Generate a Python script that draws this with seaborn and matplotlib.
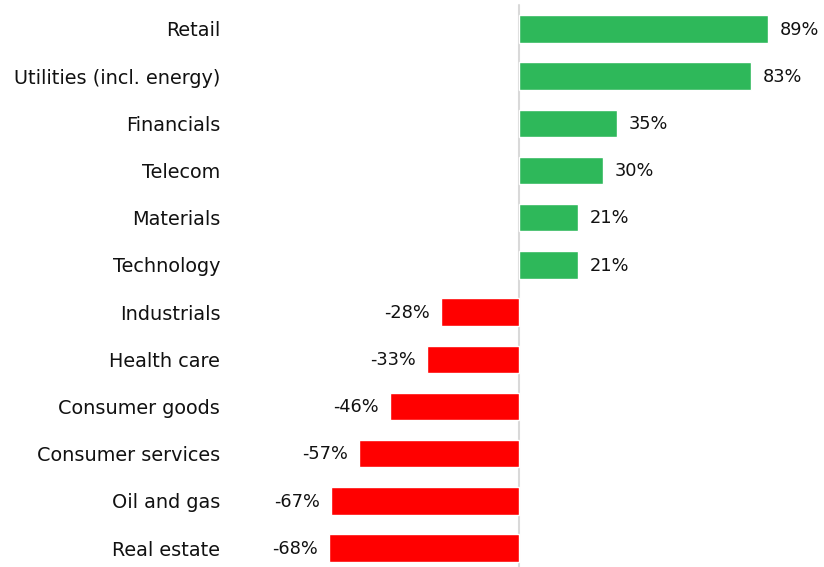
import matplotlib
matplotlib.use("Agg")
import matplotlib.pyplot as plt
import seaborn as sns
import pandas as pd

categories = ["Retail", "Utilities (incl. energy)", "Financials", "Telecom", "Materials",
              "Technology", "Industrials", "Health care", "Consumer goods",
              "Consumer services", "Oil and gas", "Real estate"]
values = [89, 83, 35, 30, 21, 21, -28, -33, -46, -57, -67, -68]
labels = [f"{v}%" for v in values]

GREEN = "#2eb85a"
RED = "#ff0000"

sns.set_theme(style="white")
plt.rcParams["font.family"] = ["DejaVu Sans"]

df = pd.DataFrame({"cat": categories, "val": values,
                   "sign": ["pos" if v >= 0 else "neg" for v in values]})

fig = plt.figure(figsize=(8.24, 5.67), dpi=100)
W, H = 824, 567
ax = fig.add_axes([230 / W, 0, (W - 230) / W, 1])

sns.barplot(data=df, x="val", y="cat", hue="sign", palette={"pos": GREEN, "neg": RED},
            dodge=False, legend=False, width=0.58, ax=ax, saturation=1)

scale = 2.8
ax.set_xlim(-(519 - 230) / scale, (824 - 519) / scale)
sp = 47.2
ax.set_ylim(11 + (567 - 548) / sp, -29 / sp)

ax.axvline(0, ymin=0, ymax=(567 - 5) / 567, color="#d9d9d9", lw=1.5, zorder=0)

for i, (v, lab) in enumerate(zip(values, labels)):
    if v >= 0:
        ax.annotate(lab, (v, i), xytext=(8.5, -0.5), textcoords="offset points",
                    ha="left", va="center", fontsize=12.8, color="#111111")
    else:
        ax.annotate(lab, (v, i), xytext=(-8, -0.5), textcoords="offset points",
                    ha="right", va="center", fontsize=12.8, color="#111111")

for s in ax.spines.values():
    s.set_visible(False)
ax.set_xticks([])
ax.set_xlabel("")
ax.set_ylabel("")
ax.tick_params(axis="y", length=0, pad=7, labelsize=13.9, labelcolor="#111111")

fig.savefig("out.png", dpi=100)
